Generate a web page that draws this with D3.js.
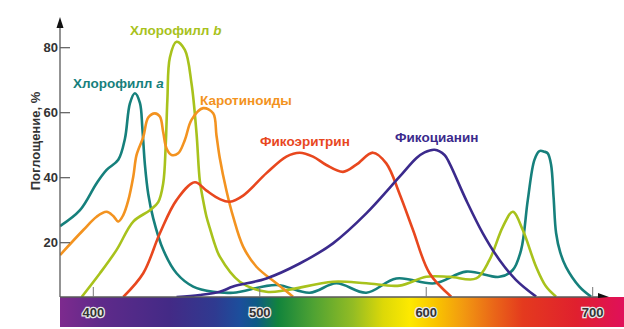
<!DOCTYPE html>
<html>
<head>
<meta charset="utf-8">
<script src="https://cdn.jsdelivr.net/npm/d3@7"></script>
<style>
  body { margin: 0; background: #fff; }
  text { font-family: "Liberation Sans", Arial, sans-serif; font-weight: bold; }
</style>
</head>
<body>
<div id="chart"></div>
<script>
var svgWidth = 624;
var svgHeight = 329;

// wavelength (nm) / absorption (%) pairs
var chlA = [[380,25.1],[392,30],[402,38.3],[408,42.4],[415,45.5],[419,52],[422,62.9],[425,66],[428,63],[429.5,55],[431,44],[433,35],[436,27.5],[442,17.8],[450,10.6],[460,6.5],[472,4.9],[484,4.6],[510,7.0],[530,4.6],[546,7.5],[564,4.6],[582,9.0],[605,7.5],[624,11.1],[644,9.5],[652,11.6],[657,17.8],[661,33.1],[665,45.5],[668,48.2],[671,48],[673,47.5],[675,44],[676.5,34],[678,23],[680.5,17],[684,12.5],[692,6.5],[699,3.4]];
var chlB = [[393,3.3],[404,10.6],[414,17.8],[424,26.5],[434,30],[439,32.5],[442,38.3],[443.5,50],[444.5,64],[446,77],[450,81.8],[455,79.3],[459,69],[462,53.7],[464,39],[466,33],[468,28],[470,24.5],[473,19.5],[476,15.7],[488,8],[504,4.9],[516,5.4],[544,8],[564,7.5],[584,6.8],[600,9.5],[614,9.5],[630,9],[638,14.7],[646,24.9],[652,29.5],[658,23.9],[666,12.6],[672,6.5],[678,3.4]];
var carot = [[380,16.2],[394,23.9],[402,28],[408,29.5],[412,28.2],[415,26.5],[418,28.5],[421,33],[424,40.3],[426,47],[430,52.5],[433,58.5],[437,59.8],[440,58.8],[442,54],[444,49],[447,47],[451,47.5],[455,51.6],[459,57.8],[466,61.4],[472,59.8],[474,53],[476,46],[480,36],[484,28],[490,18.8],[498,12.6],[510,7.5],[520,3.4]];
var phycoer = [[418,3.3],[430,10.6],[440,22.9],[450,33.1],[461,38.6],[468,36],[476,33.4],[482,32.6],[490,34.5],[504,41.4],[516,46.5],[524,47.7],[532,46.5],[540,43.9],[550,41.8],[558,44],[568,47.7],[576,44.4],[584,35],[592,24],[602,10.6],[615,3.4]];
var phycocy = [[450,3.3],[464,3.9],[476,4.9],[484,6.5],[504,9],[524,13.6],[544,19.8],[564,29],[584,40.3],[594,46],[599,47.8],[605,48.6],[611,47],[614,44.4],[624,33.1],[634,22.9],[644,14.7],[654,8.5],[666,3.4]];

var seriesNames = ["Хлорофилл a", "Хлорофилл b", "Каротиноиды", "Фикоэритрин", "Фикоцианин"];
var seriesData = [chlA, chlB, carot, phycoer, phycocy];
var seriesColors = ["#16807c", "#a8c21c", "#f39320", "#e8471e", "#3b2a8c"];

var xTicks = [400, 500, 600, 700];
var yTicks = [20, 40, 60, 80];

// spectrum colours along the wavelength axis
var spectrumNm = [380, 404, 446, 473, 488, 498, 511, 532, 556, 574, 590, 606, 622, 640, 658, 690, 719];
var spectrumCol = ["#7d2a8e", "#5f2a8a", "#432a86", "#2f3a90", "#1c4e9c", "#0e5a86", "#12843c", "#4ea233", "#93bc24", "#dcd808", "#fde900", "#f9c400", "#f29a10", "#ea6818", "#e43a1e", "#e0202e", "#e0105a"];

var x = d3.scaleLinear().domain([400, 700]).range([93.3, 592.7]);
var y = d3.scaleLinear().domain([20, 80]).range([242.7, 47.7]);

var axisX = 60;
var baseY = 297;

var svg = d3.select("#chart")
  .append("svg")
  .attr("width", svgWidth)
  .attr("height", svgHeight);

// spectrum bar
var grad = svg.append("defs").append("linearGradient")
  .attr("id", "spec")
  .attr("gradientUnits", "userSpaceOnUse")
  .attr("x1", axisX).attr("x2", svgWidth)
  .attr("y1", 0).attr("y2", 0);
spectrumNm.forEach(function (nm, i) {
  grad.append("stop")
    .attr("offset", (x(nm) - axisX) / (svgWidth - axisX))
    .attr("stop-color", spectrumCol[i]);
});
svg.append("rect")
  .attr("x", axisX).attr("y", baseY)
  .attr("width", svgWidth - axisX).attr("height", 30)
  .attr("fill", "url(#spec)");

svg.select("defs").append("clipPath").attr("id", "plotclip")
  .append("rect").attr("x", axisX).attr("y", 0)
  .attr("width", svgWidth - axisX).attr("height", baseY);

// curves
var line = d3.line()
  .x(function (d) { return x(d[0]); })
  .y(function (d) { return y(d[1]); })
  .curve(d3.curveCatmullRom.alpha(0.5));

svg.append("g").attr("clip-path", "url(#plotclip)")
  .selectAll("path")
  .data(seriesData)
  .enter()
  .append("path")
  .attr("d", line)
  .attr("fill", "none")
  .attr("stroke", function (d, i) { return seriesColors[i]; })
  .attr("stroke-width", 2.6)
  .attr("stroke-linejoin", "round");

// axes
var axisCol = "#5a5a5a";
svg.append("line")
  .attr("x1", axisX).attr("x2", axisX)
  .attr("y1", 26).attr("y2", baseY)
  .attr("stroke", axisCol).attr("stroke-width", 1.3);
svg.append("path")
  .attr("d", "M" + axisX + ",17 L" + (axisX - 3.5) + ",28 L" + (axisX + 3.5) + ",28 Z")
  .attr("fill", "#111");
svg.append("line")
  .attr("x1", axisX).attr("x2", 600)
  .attr("y1", baseY).attr("y2", baseY)
  .attr("stroke", axisCol).attr("stroke-width", 1.3);
svg.append("path")
  .attr("d", "M609," + baseY + " L598," + (baseY - 4) + " L598," + (baseY + 1) + " Z")
  .attr("fill", "#111");

var yt = svg.append("g");
yt.selectAll("line").data(yTicks).enter().append("line")
  .attr("x1", axisX).attr("x2", axisX + 10)
  .attr("y1", function (d) { return y(d); })
  .attr("y2", function (d) { return y(d); })
  .attr("stroke", axisCol).attr("stroke-width", 1.2);
yt.selectAll("text").data(yTicks).enter().append("text")
  .attr("x", axisX - 2)
  .attr("y", function (d) { return y(d) + 4.5; })
  .attr("text-anchor", "end")
  .attr("font-size", 13)
  .attr("fill", "#333")
  .text(function (d) { return d; });

var xt = svg.append("g");
xt.selectAll("line").data(xTicks).enter().append("line")
  .attr("x1", function (d) { return x(d); })
  .attr("x2", function (d) { return x(d); })
  .attr("y1", baseY - 10).attr("y2", baseY)
  .attr("stroke", "#777").attr("stroke-width", 1);
xt.selectAll("text").data(xTicks).enter().append("text")
  .attr("x", function (d) { return x(d); })
  .attr("y", 316.5)
  .attr("text-anchor", "middle")
  .attr("font-size", 13)
  .attr("fill", "#333")
  .attr("stroke", "#e8e8e8")
  .attr("stroke-width", 2.5)
  .attr("paint-order", "stroke")
  .text(function (d) { return d; });

svg.append("text")
  .attr("transform", "translate(40,141) rotate(-90)")
  .attr("text-anchor", "middle")
  .attr("font-size", 13)
  .attr("fill", "#333")
  .text("Поглощение, %");

// series labels
var labelPos = [[73, 88], [130, 34.5], [200, 105], [260, 146], [395, 142]];
seriesNames.forEach(function (name, i) {
  var t = svg.append("text")
    .attr("x", labelPos[i][0]).attr("y", labelPos[i][1])
    .attr("font-size", 13.5)
    .attr("fill", seriesColors[i]);
  if (i < 2) {
    t.append("tspan").text(name.slice(0, -1));
    t.append("tspan").attr("font-style", "italic").text(name.slice(-1));
  } else {
    t.text(name);
  }
});
</script>
</body>
</html>
